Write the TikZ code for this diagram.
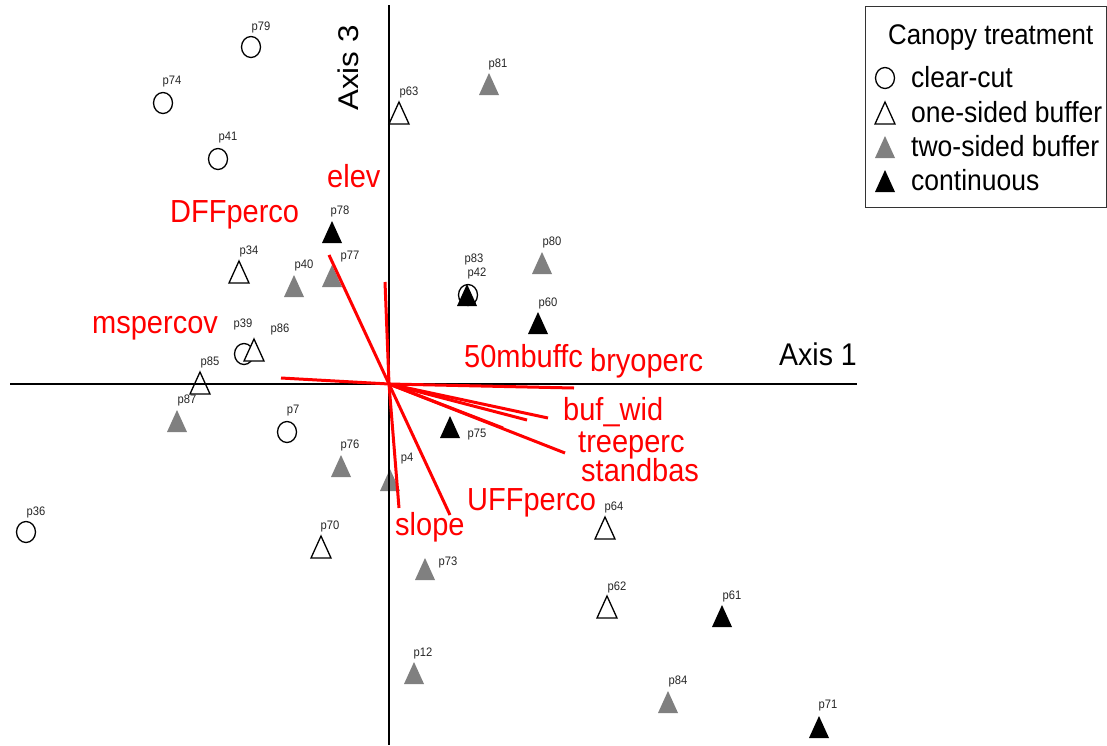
\documentclass[tikz,border=0pt]{standalone}
\usepackage{fontspec}
\setmainfont{Liberation Sans}
\definecolor{mkgray}{RGB}{128,128,128}
\newcommand\stretchy[1]{\scalebox{1}[1.1]{#1}}
\begin{document}
\begin{tikzpicture}[x=1pt,y=-1pt,
  mk/.style={line width=1.3pt,draw=black},
  circ/.pic={\draw[mk] (0,0) ellipse[x radius=9.5, y radius=10.5];},
  otri/.pic={\draw[mk,fill=white] (0,-11)--(10,11)--(-10,11)--cycle;},
  gtri/.pic={\fill[mkgray] (0,-11)--(10,11)--(-10,11)--cycle;},
  btri/.pic={\fill[black] (0,-11)--(10,11)--(-10,11)--cycle;},
  plab/.style={inner sep=0pt,font=\fontsize{11.2}{12}\selectfont,text=black!85},
  rlab/.style={inner sep=0pt,anchor=base west,font=\fontsize{29}{31}\selectfont,text=red},
  axlab/.style={inner sep=0pt,anchor=base west,font=\fontsize{28.5}{30}\selectfont,text=black},
  leglab/.style={inner sep=0pt,anchor=base west,font=\fontsize{26.5}{28}\selectfont,text=black},
  axis/.style={line width=2pt,black},
  vec/.style={line width=3pt,red}
]
\useasboundingbox (0,0) rectangle (1107,745);
% markers
\pic (m79) at (251,47) {circ};
\pic (m74) at (163,103) {circ};
\pic (m41) at (218,159) {circ};
\pic (m63) at (399,113) {otri};
\pic (m81) at (489,84) {gtri};
\pic (m78) at (332,232) {btri};
\pic (m34) at (239,272) {otri};
\pic (m40) at (294,286) {gtri};
\pic (m77) at (332,276) {gtri};
\pic (m83) at (468,295) {circ};
\pic (m42) at (467,295) {btri};
\pic (m80) at (542,263) {gtri};
\pic (m60) at (538,323) {btri};
\pic (m39) at (244,354) {circ};
\pic (m86) at (254,350) {otri};
\pic (m85) at (200,383) {otri};
\pic (m87) at (177,421) {gtri};
\pic (m7) at (287,432) {circ};
\pic (m76) at (341,466) {gtri};
\pic (m4) at (390,480) {gtri};
\pic (m75) at (450,427) {btri};
\pic (m36) at (26,532) {circ};
\pic (m70) at (321,547) {otri};
\pic (m73) at (425,569) {gtri};
\pic (m64) at (605,528) {otri};
\pic (m62) at (607,607) {otri};
\pic (m61) at (722,616) {btri};
\pic (m12) at (414,673) {gtri};
\pic (m84) at (668,702) {gtri};
\pic (m71) at (819,727) {btri};
% point labels
\node[plab] (p79) at (261,27) {\stretchy{p79}};
\node[plab] (p74) at (172,82) {\stretchy{p74}};
\node[plab] (p41) at (228,138) {\stretchy{p41}};
\node[plab] (p63) at (409,92) {\stretchy{p63}};
\node[plab] (p81) at (498,64) {\stretchy{p81}};
\node[plab] (p78) at (340,211) {\stretchy{p78}};
\node[plab] (p34) at (249,251) {\stretchy{p34}};
\node[plab] (p40) at (304,265) {\stretchy{p40}};
\node[plab] (p77) at (350,257) {\stretchy{p77}};
\node[plab] (p83) at (474,259) {\stretchy{p83}};
\node[plab] (p42) at (477,273) {\stretchy{p42}};
\node[plab] (p80) at (552,242) {\stretchy{p80}};
\node[plab] (p60) at (548,303) {\stretchy{p60}};
\node[plab] (p39) at (243,324) {\stretchy{p39}};
\node[plab] (p86) at (280,329) {\stretchy{p86}};
\node[plab] (p85) at (210,362) {\stretchy{p85}};
\node[plab] (p87) at (187,400) {\stretchy{p87}};
\node[plab] (p7) at (293,411) {\stretchy{p7}};
\node[plab] (p76) at (350,445) {\stretchy{p76}};
\node[plab] (p4) at (407,459) {\stretchy{p4}};
\node[plab] (p75) at (477,435) {\stretchy{p75}};
\node[plab] (p36) at (36,512) {\stretchy{p36}};
\node[plab] (p70) at (330,526) {\stretchy{p70}};
\node[plab] (p73) at (448,562) {\stretchy{p73}};
\node[plab] (p64) at (614,507) {\stretchy{p64}};
\node[plab] (p62) at (617,587) {\stretchy{p62}};
\node[plab] (p61) at (732,596) {\stretchy{p61}};
\node[plab] (p12) at (423,653) {\stretchy{p12}};
\node[plab] (p84) at (678,681) {\stretchy{p84}};
\node[plab] (p71) at (828,706) {\stretchy{p71}};
% axes
\coordinate (xl) at (10,384);
\coordinate (xr) at (857,384);
\coordinate (yt) at (389,5);
\coordinate (yb) at (389,745);
\draw[axis] (xl) -- (xr);
\draw[axis] (yt) -- (yb);
\node[axlab] (ax1) at (779,365) {\stretchy{Axis 1}};
\node[axlab,rotate=90] (ax3) at (358,111) {\scalebox{1.1}[1]{Axis 3}};
% vectors
\coordinate (O) at (389,384);
\coordinate (vElev) at (385,282);
\coordinate (vDFF) at (329,255);
\coordinate (vMs) at (281,378);
\coordinate (vBryo) at (574,388);
\coordinate (vBuf) at (548,418);
\coordinate (v50) at (527,420);
\coordinate (vTree) at (503,428);
\coordinate (vStand) at (565,453);
\coordinate (vUFF) at (450,515);
\coordinate (vSlope) at (399,508);
\foreach \e in {vElev,vDFF,vMs,vBryo,vBuf,v50,vTree,vStand,vUFF,vSlope}
  \draw[vec] (O) -- (\e);
\node[rlab] (elev) at (327,187) {\stretchy{elev}};
\node[rlab] (DFF) at (170,222) {\stretchy{DFFperco}};
\node[rlab] (ms) at (92,333) {\stretchy{mspercov}};
\node[rlab] (m50) at (464,367) {\stretchy{50mbuffc}};
\node[rlab] (bryo) at (590,371) {\stretchy{bryoperc}};
\node[rlab] (buf) at (563,420) {\stretchy{buf\_wid}};
\node[rlab] (tree) at (578,452) {\stretchy{treeperc}};
\node[rlab] (stand) at (581,481) {\stretchy{standbas}};
\node[rlab] (uff) at (467,510) {\stretchy{UFFperco}};
\node[rlab] (slope) at (395,535) {\stretchy{slope}};
% legend
\node[draw=black!80,line width=1pt,minimum width=241pt,minimum height=201pt,anchor=north west,inner sep=0pt] (legend) at (865,6) {};
\node[leglab,font=\fontsize{25.8}{28}\selectfont] (legtitle) at (888,44) {\stretchy{Canopy treatment}};
\pic (lg1) at (885,78) {circ};
\pic (lg2) at (885,113) {otri};
\pic (lg3) at (885,147) {gtri};
\pic (lg4) at (885,181) {btri};
\node[leglab] (lt1) at (911,87) {\stretchy{clear-cut}};
\node[leglab] (lt2) at (911,122) {\stretchy{one-sided buffer}};
\node[leglab] (lt3) at (911,156) {\stretchy{two-sided buffer}};
\node[leglab] (lt4) at (911,190) {\stretchy{continuous}};
\end{tikzpicture}
\end{document}
